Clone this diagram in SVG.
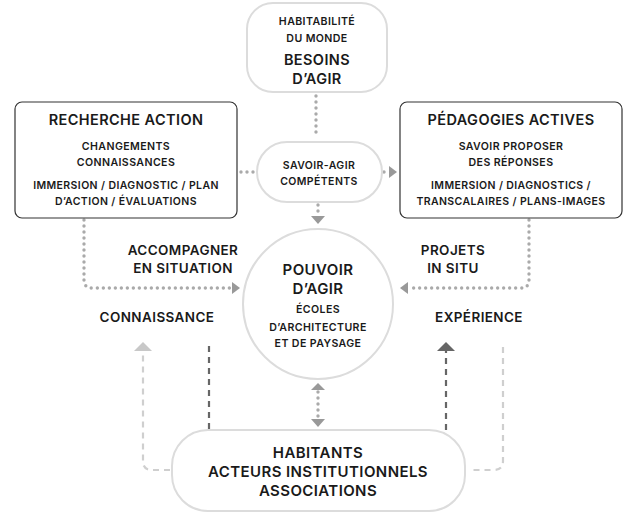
<svg xmlns="http://www.w3.org/2000/svg" width="627" height="513" viewBox="0 0 627 513">
<defs>
<style>
text{font-family:Inter,"Open Sans","DejaVu Sans",sans-serif;font-weight:600;fill:#1a1a1a;text-anchor:middle;letter-spacing:0.4px}
.t14{font-size:14.5px}
.t15{font-size:15px}
.t13{font-size:13.5px}
.t10{font-size:10.6px}
.t11{font-size:10.5px}
.light{fill:#fff;stroke:#dcdcdc;stroke-width:2}
.dark{fill:#fff;stroke:#333;stroke-width:1.2}
.dot{fill:none;stroke:#aaa;stroke-width:3.4;stroke-linecap:round;stroke-dasharray:0 6}
.dashL{fill:none;stroke:#cfcfcf;stroke-width:2.2;stroke-dasharray:6 5}
.dashD{fill:none;stroke:#666;stroke-width:2.2;stroke-dasharray:6 5}
.ah{fill:#999}
.ahL{fill:#c8c8c8}
.ahD{fill:#666}
</style>
</defs>
<g id="connectors">
<path class="dot" d="M316,96 V138"/>
<path class="dot" d="M241,172 H255"/>
<path class="dot" d="M384,172 H388"/>
<polygon class="ah" points="389,166 397,172 389,178"/>
<path class="dot" d="M318,205 V214"/>
<polygon class="ah" points="311,216 325,216 318,224"/>
<path class="dot" d="M84,220 V280 Q84,288 92,288 H232"/>
<polygon class="ah" points="232,282 240,288 232,294"/>
<path class="dot" d="M529,220 V280 Q529,288 521,288 H408"/>
<polygon class="ah" points="408,282 400,288 408,294"/>
<path class="dot" d="M318,392 V418"/>
<polygon class="ah" points="311,390 325,390 318,383"/>
<polygon class="ah" points="311,419 325,419 318,427"/>
<path class="dashL" d="M170,470 H152 Q143,470 143,461 V350"/>
<polygon class="ahL" points="134,351 152,351 143,342"/>
<path class="dashD" d="M209,346 V430"/>
<path class="dashD" d="M446,430 V351"/>
<polygon class="ahD" points="437,351 455,351 446,342"/>
<path class="dashL" d="M503,347 V461 Q503,470 494,470 H473"/>
</g>
<g id="besoins">
<rect class="light" x="247" y="3" width="140" height="89" rx="26"/>
<text class="t10" x="317" y="25">HABITABILITÉ</text>
<text class="t10" x="317" y="42">DU MONDE</text>
<text class="t14" x="317" y="65">BESOINS</text>
<text class="t14" x="317" y="84">D’AGIR</text>
</g>
<g id="recherche">
<rect class="dark" x="15" y="102" width="222" height="116" rx="7"/>
<text class="t14" x="126" y="125">RECHERCHE ACTION</text>
<text class="t10" x="126" y="150">CHANGEMENTS</text>
<text class="t10" x="126" y="166">CONNAISSANCES</text>
<text class="t11" x="126" y="189">IMMERSION / DIAGNOSTIC / PLAN</text>
<text class="t11" x="126" y="205">D’ACTION / ÉVALUATIONS</text>
</g>
<g id="pedagogies">
<rect class="dark" x="400" y="102" width="222" height="116" rx="7"/>
<text class="t14" x="511" y="125">PÉDAGOGIES ACTIVES</text>
<text class="t10" x="511" y="150">SAVOIR PROPOSER</text>
<text class="t10" x="511" y="166">DES RÉPONSES</text>
<text class="t11" x="511" y="189">IMMERSION / DIAGNOSTICS /</text>
<text class="t11" x="511" y="205">TRANSCALAIRES / PLANS-IMAGES</text>
</g>
<g id="savoir">
<rect class="light" x="257" y="142" width="125" height="60" rx="30"/>
<text class="t11" x="319" y="169">SAVOIR-AGIR</text>
<text class="t11" x="319" y="185">COMPÉTENTS</text>
</g>
<g id="pouvoir">
<circle class="light" cx="318" cy="304" r="75"/>
<text class="t15" x="318" y="275">POUVOIR</text>
<text class="t15" x="318" y="294">D’AGIR</text>
<text class="t10" x="318" y="313">ÉCOLES</text>
<text class="t10" x="318" y="331">D’ARCHITECTURE</text>
<text class="t10" x="318" y="347">ET DE PAYSAGE</text>
</g>
<g id="labels">
<text class="t13" x="183" y="255">ACCOMPAGNER</text>
<text class="t13" x="183" y="273">EN SITUATION</text>
<text class="t13" x="157" y="322">CONNAISSANCE</text>
<text class="t13" x="453" y="255">PROJETS</text>
<text class="t13" x="453" y="273">IN SITU</text>
<text class="t13" x="479" y="322">EXPÉRIENCE</text>
</g>
<g id="habitants">
<rect class="light" x="172" y="430" width="293" height="81" rx="36"/>
<text class="t15" x="318" y="458">HABITANTS</text>
<text class="t15" x="318" y="477">ACTEURS INSTITUTIONNELS</text>
<text class="t15" x="318" y="496">ASSOCIATIONS</text>
</g>
</svg>
